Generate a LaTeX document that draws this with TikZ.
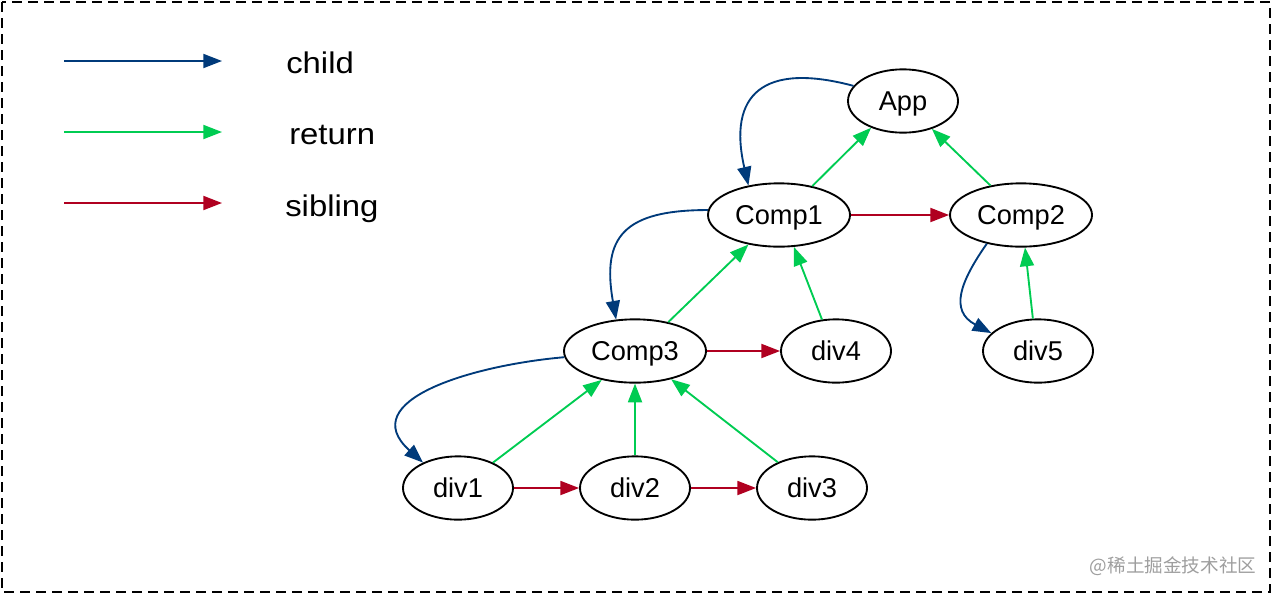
\documentclass[tikz,border=0pt]{standalone}
\usepackage{fontspec}
\setmainfont{Liberation Sans}
\newfontfamily\legendfont[FakeStretch=1.1]{Liberation Sans}
\newfontfamily\cjkfont{Noto Sans CJK SC}
\usetikzlibrary{shapes.geometric, arrows.meta}

\definecolor{childblue}{RGB}{0,58,122}
\definecolor{returngreen}{RGB}{0,204,82}
\definecolor{siblingred}{RGB}{176,0,32}

\begin{document}
\begin{tikzpicture}[
    x=0.75bp, y=0.75bp,
    fiber/.style={
        ellipse, draw=black, line width=1.4bp,
        minimum width=82.5bp, minimum height=47.5bp, inner sep=0pt,
        font=\fontsize{20.5}{24}\selectfont,
        text height=14.7bp, text depth=0bp
    },
    compfiber/.style={fiber, minimum width=106.5bp},
    link/.style={line width=1.4bp,
                 -{Triangle[length=14bp, width=10.5bp]}},
    childarrow/.style={link, draw=childblue},
    returnarrow/.style={link, draw=returngreen},
    siblingarrow/.style={link, draw=siblingred},
    lbl/.style={anchor=base west, inner sep=0pt,
                font=\legendfont\fontsize{22.5}{26}\selectfont}
]
\useasboundingbox (0,0) rectangle (1272,-594);
\draw[line width=1.5bp, dash pattern=on 7.5bp off 4.5bp]
    (2,-2) rectangle (1270,-592);

% legend
\coordinate (childA)   at (64,-61);
\coordinate (childB)   at (222,-61);
\coordinate (returnA)  at (64,-132);
\coordinate (returnB)  at (222,-132);
\coordinate (siblingA) at (64,-203);
\coordinate (siblingB) at (222,-203);
\draw[childarrow]   (childA)   -- (childB);
\draw[returnarrow]  (returnA)  -- (returnB);
\draw[siblingarrow] (siblingA) -- (siblingB);
\node[lbl] (childlbl)   at (286,-73)  {child};
\node[lbl] (returnlbl)  at (289,-144) {return};
\node[lbl] (siblinglbl) at (285,-216) {sibling};

% fiber tree
\node[fiber]     (app)   at (903,-101) {App};
\node[compfiber] (comp1) at (779,-215) {Comp1};
\node[compfiber] (comp2) at (1021,-215) {Comp2};
\node[compfiber] (comp3) at (635,-351) {Comp3};
\node[fiber]     (div4)  at (836,-351) {div4};
\node[fiber]     (div5)  at (1038,-351) {div5};
\node[fiber]     (div1)  at (458,-488) {div1};
\node[fiber]     (div2)  at (635,-488) {div2};
\node[fiber]     (div3)  at (812,-488) {div3};

% child
\draw[childarrow] (app.163) to[out=165, in=103, looseness=1.65] (comp1.136);
\draw[childarrow] (comp1.176) to[out=180, in=100, looseness=1.5] (comp3.121);
\draw[childarrow] (comp3.185) to[out=185, in=138, looseness=1.35] (div1.144);
\draw[childarrow] (comp2.220) to[out=235, in=152, looseness=1.35] (div5.159);

% return
\draw[returnarrow] (comp1.41)  -- (app.220);
\draw[returnarrow] (comp2.136) -- (app.-44);
\draw[returnarrow] (comp3.41)  -- (comp1.224);
\draw[returnarrow] (div4.114)  -- (comp1.-65);
\draw[returnarrow] (div5.99)   -- (comp2.-83);
\draw[returnarrow] (div1.36)   -- (comp3.221);
\draw[returnarrow] (div2.north) -- (comp3.south);
\draw[returnarrow] (div3.143)  -- (comp3.-38);

% sibling
\draw[siblingarrow] (comp1.east) -- (comp2.west);
\draw[siblingarrow] (comp3.east) -- (div4.west);
\draw[siblingarrow] (div1.east)  -- (div2.west);
\draw[siblingarrow] (div2.east)  -- (div3.west);

\node[text=black!38, font=\cjkfont\fontsize{14}{17}\selectfont]
    (watermark) at (1173,-566) {@稀土掘金技术社区};
\end{tikzpicture}
\end{document}
